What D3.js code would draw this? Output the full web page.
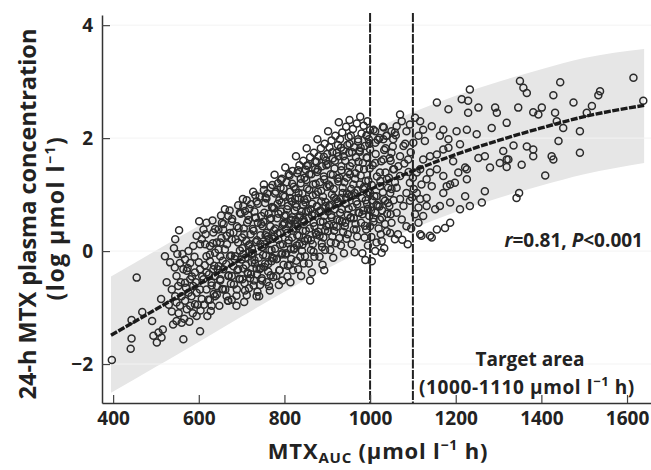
<!DOCTYPE html>
<html>
<head>
<meta charset="utf-8">
<script src="https://cdn.jsdelivr.net/npm/d3@7"></script>
<style>
  body { margin: 0; background: #fff; }
  text { font-family: "Open Sans", Lato, sans-serif; font-weight: bold; fill: #222; }
</style>
</head>
<body>
<script>
// fitted curve and its band
var fitAuc  = [395, 450, 500, 550, 600, 700, 800, 900, 1000, 1100, 1200, 1300, 1400, 1500, 1640];
var fitConc = [-1.49, -1.25, -1.03, -0.81, -0.59, -0.14, 0.30, 0.71, 1.09, 1.42, 1.71, 1.96, 2.18, 2.38, 2.58];
var bandHi  = [-0.45, -0.21, 0.01, 0.23, 0.45, 0.90, 1.34, 1.75, 2.13, 2.46, 2.75, 3.00, 3.22, 3.42, 3.58];
var bandLo  = [-2.51, -2.27, -2.05, -1.83, -1.61, -1.16, -0.72, -0.31, 0.07, 0.40, 0.69, 0.94, 1.16, 1.36, 1.56];

var targetLines = [1000, 1100];
var xTicks = [400, 600, 800, 1000, 1200, 1400, 1600];
var yTicks = [-2, 0, 2, 4];

// patients [MTX AUC, log conc]
var ptsLow = [
  [397,-1.93],[443,-1.55],[441,-1.73],[455,-0.47],[468,-1.08],[443,-1.22],[491,-1.24],[494,-1.50],
  [506,-1.44],[502,-1.62],[513,-1.53],[516,-1.39],[512,-0.85],[521,-0.09],[545,0.21],[554,0.37],
  [564,-1.56],[603,-1.42],[601,0.53],[537,-1.07],[544,-0.29],[548,-0.44],[556,-0.21],[564,-0.32],
  [552,-0.62],[568,-0.56],[560,-0.80],[576,-0.74],[548,-1.24],[560,-1.27],[572,-1.03],[580,-0.97],
  [591,-0.94],[595,-1.15],[607,-0.85],[587,-0.62],[580,-0.50],[568,-0.15],[576,0.00],[587,0.09],
  [595,0.27],[607,0.21],[615,0.12],[618,-0.09],[626,-0.18],[603,-0.32],[611,-0.50],[618,-0.68],
  [626,-0.86],[630,-0.97],[638,-0.80],[642,-0.62],[638,-0.44],[634,-0.32],[646,-0.27],[650,-0.09],
  [638,-0.03],[642,0.15],[634,0.33],[646,0.38],[654,0.50],[661,0.74],[669,0.62],[677,0.53],
  [681,0.33],[689,0.44],[696,0.68],[704,0.80],[665,0.27],[661,0.03],[673,-0.09],[681,-0.27],
  [669,-0.44],[657,-0.68],[665,-0.80],[677,-0.86],[689,-0.68],[696,-0.50],[692,-0.32],[700,-0.15],
  [556,-0.97],[568,-0.88],[583,-0.80],[595,-0.74],[548,-0.91],[537,-0.68],[545,-0.80],[603,-0.68],
  [591,-0.38],[572,-0.35],[618,-0.38],[630,-0.56],[650,-0.50],[657,-0.32],[677,-0.44],[685,-0.09],
  [692,0.15],[677,0.21],[657,0.38],[650,0.15],[626,0.09],[611,0.38],[618,0.50],[603,0.12],
  [580,-0.21],[669,-0.88],[688,-0.97],[735,-0.80],
  [525,-0.55],[530,-0.95],[533,-0.20],[540,-1.30],[542,0.05],[550,-0.05],[553,-1.10],[558,-0.55],
  [562,-0.05],[566,-1.20],[570,-0.65],[574,-0.30],[578,-1.25],[584,-0.45],[586,-1.10],[590,-0.10],
  [593,-0.55],[598,-0.95],[600,-0.20],[604,-1.05],[608,-0.45],[612,-0.95],[614,-0.25],[620,-1.15],
  [616,0.30]
];

var ptsMid = [
  [703,0.92],[708,0.71],[716,0.55],[705,0.40],[721,0.30],[711,0.18],[702,0.05],[718,-0.02],[709,-0.12],[724,-0.20],[704,-0.31],[714,-0.38],[720,-0.48],[707,-0.57],[717,-0.66],[712,-0.78],[722,0.83],[715,0.64],[701,0.24],[719,0.12],[706,-0.90],[723,-0.05],
  [727,1.05],[735,0.88],[742,0.96],[730,0.70],[746,0.62],[738,0.50],[728,0.36],[744,0.28],[733,0.16],[748,0.07],[726,-0.04],[740,-0.12],[731,-0.22],[745,-0.30],[736,-0.41],[729,-0.52],[743,-0.60],[737,-0.72],[749,0.44],[732,0.59],[741,-0.80],[747,-0.48],
  [752,1.18],[760,1.02],[768,1.12],[755,0.85],[771,0.78],[763,0.66],[751,0.52],[767,0.44],[758,0.32],[773,0.22],[754,0.12],[765,0.02],[757,-0.08],[770,-0.18],[753,-0.28],[762,-0.36],[774,-0.46],[759,-0.55],[766,-0.70],[756,0.95],[769,0.58],[761,0.26],[772,-0.12],[764,-0.62],
  [777,1.35],[785,1.20],[794,1.28],[780,1.05],[797,0.98],[788,0.90],[776,0.76],[792,0.70],[783,0.58],[799,0.48],[779,0.40],[790,0.32],[786,0.20],[796,0.12],[778,0.04],[793,-0.06],[782,-0.14],[798,-0.24],[789,-0.34],[781,-0.44],[795,-0.52],[787,-0.60],[791,1.12],[784,0.84],[800,0.62],[776,0.26],
  [802,1.48],[810,1.36],[819,1.42],[805,1.22],[822,1.14],[813,1.05],[801,0.96],[817,0.88],[808,0.80],[824,0.72],[803,0.64],[815,0.56],[811,0.47],[821,0.40],[806,0.32],[818,0.24],[809,0.14],[823,0.05],[804,-0.04],[816,-0.14],[812,-0.24],[820,-0.34],[807,-0.45],[814,-0.55],[825,0.92],[800,0.50],[818,0.60],
  [827,1.68],[835,1.52],[844,1.60],[830,1.38],[847,1.30],[838,1.20],[826,1.10],[842,1.02],[833,0.94],[849,0.86],[828,0.78],[840,0.70],[836,0.60],[846,0.52],[831,0.44],[843,0.36],[834,0.27],[848,0.18],[829,0.10],[841,0.00],[837,-0.10],[845,-0.22],[832,-0.32],[839,-0.44],[850,1.44],[826,0.55],[844,0.82],
  [852,1.82],[860,1.66],[869,1.74],[855,1.52],[872,1.45],[863,1.36],[851,1.26],[867,1.18],[858,1.08],[874,1.00],[853,0.92],[865,0.84],[861,0.74],[871,0.66],[856,0.58],[868,0.50],[859,0.40],[873,0.32],[854,0.22],[866,0.12],[862,0.02],[870,-0.10],[857,-0.22],[864,-0.38],[860,-0.52],[875,1.58],[851,0.70],
  [877,1.98],[885,1.82],[894,1.90],[880,1.68],[897,1.60],[888,1.50],[876,1.40],[892,1.32],[883,1.22],[899,1.14],[878,1.05],[890,0.96],[886,0.88],[896,0.80],[881,0.70],[893,0.62],[884,0.52],[898,0.44],[879,0.34],[891,0.24],[887,0.14],[895,0.02],[882,-0.10],[889,-0.24],[900,1.72],[876,0.80],[893,-0.34],
  [902,2.12],[910,1.96],[919,2.04],[905,1.84],[922,1.74],[913,1.64],[901,1.54],[917,1.46],[908,1.36],[924,1.28],[903,1.18],[915,1.10],[911,1.00],[921,0.92],[906,0.82],[918,0.74],[909,0.64],[923,0.56],[904,0.46],[916,0.36],[912,0.26],[920,0.14],[907,0.02],[914,-0.12],[925,1.88],[901,0.70],
  [927,2.28],[935,2.10],[944,2.20],[930,1.98],[947,1.88],[938,1.78],[926,1.68],[942,1.60],[933,1.50],[949,1.40],[928,1.30],[940,1.22],[936,1.12],[946,1.02],[931,0.94],[943,0.84],[934,0.74],[948,0.64],[929,0.54],[941,0.44],[937,0.34],[945,0.22],[932,0.10],[939,-0.04],[950,2.02],[926,0.86],
  [952,2.32],[960,2.16],[969,2.26],[955,2.04],[972,1.94],[963,1.84],[951,1.74],[967,1.66],[958,1.56],[974,1.46],[953,1.36],[965,1.28],[961,1.18],[971,1.08],[956,0.98],[968,0.88],[959,0.78],[973,0.68],[954,0.58],[966,0.48],[962,0.38],[970,0.26],[957,0.12],[964,-0.02],[975,1.78],[951,1.00],
  [977,2.38],[985,2.22],[994,2.30],[980,2.08],[997,1.98],[988,1.86],[976,1.76],[992,1.66],[983,1.56],[999,1.46],[978,1.34],[990,1.24],[986,1.14],[996,1.04],[981,0.94],[993,0.84],[984,0.72],[998,0.62],[979,0.50],[991,0.38],[987,0.24],[995,0.10],[982,-0.04],[989,-0.16],[1000,2.14]
];

// extra points in the dark core around the fitted line
var ptsCore = [
  [622,-0.86],[626,-0.06],[630,-0.61],[633,0.14],[636,-0.26],[628,-1.06],[638,0.39],[624,-0.41],[632,0.54],[635,-0.76],
  [642,-0.77],[646,0.03],[650,-0.52],[653,0.23],[656,-0.17],[648,-0.97],[658,0.48],[644,-0.32],[652,0.63],[655,-0.67],
  [662,-0.68],[666,0.12],[670,-0.43],[673,0.32],[676,-0.08],[668,-0.88],[678,0.57],[664,-0.23],[672,0.72],[675,-0.58],
  [682,-0.59],[686,0.21],[690,-0.34],[693,0.41],[696,0.01],[688,-0.79],[698,0.66],[684,-0.14],[692,0.81],[695,-0.49],
  [702,-0.50],[706,0.30],[710,-0.25],[713,0.50],[716,0.10],[708,-0.70],[718,0.75],[704,-0.05],[712,0.90],[715,-0.40],
  [722,-0.41],[726,0.39],[730,-0.16],[733,0.59],[736,0.19],[728,-0.61],[738,0.84],[724,0.04],[732,0.99],[735,-0.31],
  [742,-0.32],[746,0.48],[750,-0.07],[753,0.68],[756,0.28],[748,-0.52],[758,0.93],[744,0.13],[752,1.08],[755,-0.22],
  [762,-0.23],[766,0.57],[770,0.02],[773,0.77],[776,0.37],[768,-0.43],[778,1.02],[764,0.22],[772,1.17],[775,-0.13],
  [782,-0.14],[786,0.66],[790,0.11],[793,0.86],[796,0.46],[788,-0.34],[798,1.11],[784,0.31],[792,1.26],[795,-0.04],
  [802,-0.06],[806,0.74],[810,0.19],[813,0.94],[816,0.54],[808,-0.26],[818,1.19],[804,0.39],[812,1.34],[815,0.04],
  [822,0.03],[826,0.83],[830,0.28],[833,1.03],[836,0.63],[828,-0.17],[838,1.28],[824,0.48],[832,1.43],[835,0.13],
  [842,0.11],[846,0.91],[850,0.36],[853,1.11],[856,0.71],[848,-0.09],[858,1.36],[844,0.56],[852,1.51],[855,0.21],
  [862,0.19],[866,0.99],[870,0.44],[873,1.19],[876,0.79],[868,-0.01],[878,1.44],[864,0.64],[872,1.59],[875,0.29],
  [882,0.27],[886,1.07],[890,0.52],[893,1.27],[896,0.87],[888,0.07],[898,1.52],[884,0.72],[892,1.67],[895,0.37],
  [902,0.35],[906,1.15],[910,0.60],[913,1.35],[916,0.95],[908,0.15],[918,1.60],[904,0.80],[912,1.75],[915,0.45],
  [922,0.43],[926,1.23],[930,0.68],[933,1.43],[936,1.03],[928,0.23],[938,1.68],[924,0.88],[932,1.83],[935,0.53],
  [942,0.50],[946,1.30],[950,0.75],[953,1.50],[956,1.10],[948,0.30],[958,1.75],[944,0.95],[952,1.90],[955,0.60],
  [962,0.58],[966,1.38],[970,0.83],[973,1.58],[976,1.18],[968,0.38],[978,1.83],[964,1.03],[972,1.98],[975,0.68],
  [982,0.65],[986,1.45],[990,0.90],[993,1.65],[996,1.25],[988,0.45],[998,1.90],[984,1.10],[992,2.05],[995,0.75],
  [1002,0.72],[1006,1.52],[1010,0.97],[1013,1.72],[1016,1.32],[1008,0.52],[1018,1.97],[1004,1.17],[1012,2.12],[1015,0.82],
  [1022,0.79],[1026,1.59],[1030,1.04],[1033,1.79],[1036,1.39],[1028,0.59],[1038,2.04],[1024,1.24],[1032,2.19],[1035,0.89],
  [1042,0.85],[1046,1.65],[1050,1.10],[1053,1.85],[1056,1.45],[1048,0.65],[1058,2.10],[1044,1.30]
];

var ptsHigh = [
  [1070,2.42],[1074,2.30],[1062,2.21],[1050,2.12],[1039,2.04],[1031,1.98],[1054,1.98],[1085,2.12],
  [1093,2.24],[1105,2.36],[1117,2.30],[1124,2.15],[1113,2.04],[1128,1.95],[1101,1.92],[1078,1.86],
  [1144,2.21],[1156,2.63],[1183,2.51],[1171,2.15],[1163,2.04],[1183,1.98],[1202,2.12],[1214,2.69],
  [1233,2.86],[1229,2.66],[1229,2.45],[1253,2.54],[1226,2.15],[1210,1.89],[1249,2.07],[1284,2.18],
  [1292,2.54],[1296,2.45],[1319,2.27],[1311,1.77],[1323,1.62],[1303,1.56],[1280,1.48],[1268,1.68],
  [1253,1.65],[1226,1.45],[1206,1.39],[1187,1.18],[1198,1.21],[1179,1.15],[1222,1.48],[1226,1.27],
  [1187,0.86],[1210,0.74],[1233,0.80],[1222,0.97],[1268,1.06],[1261,0.86],[1163,0.80],[1152,0.74],
  [1187,0.50],[1175,0.41],[1156,0.38],[1140,0.27],[1120,0.27],[1113,0.50],[1124,0.62],[1113,0.77],
  [1132,0.94],[1144,1.15],[1132,1.27],[1120,1.18],[1140,1.39],[1156,1.45],[1171,1.33],[1124,1.62],
  [1140,1.68],[1156,1.71],[1171,1.80],[1183,1.83],[1194,1.59],[1117,1.45],[1109,1.39],[1171,1.03],
  [1132,0.80],[1117,0.92],[1093,0.89],[1085,1.03],[1078,0.80],[1062,0.68],[1074,0.56],[1085,0.44],
  [1050,0.50],[1039,0.35],[1058,0.21],[1027,0.18],[1047,0.32],[1023,0.56],[1012,0.68],[1000,0.44],
  [1093,1.21],[1070,1.33],[1054,1.45],[1039,1.27],[1023,1.39],[1012,1.56],[1031,1.62],[1050,1.74],
  [1070,1.68],[1089,1.62],[1000,1.80],[1012,1.92],[992,2.04],[1000,1.03],[1015,0.97],[1031,0.92],
  [1047,1.03],[1062,1.12],[1070,0.92],[1023,1.15],[1109,1.03],
  [1005,0.90],[1018,0.80],[1028,0.72],[1040,0.66],[1008,0.58],[1020,0.40],[1035,0.48],[1045,0.80],
  [1055,0.90],[1003,0.25],[1015,0.15],[1025,0.30],[1033,0.05],[1004,-0.18],[1012,0.00],[1042,1.12],
  [1058,1.22],[1066,1.50],[1080,1.55],[1048,1.60],[1036,1.82],[1022,2.00],[1008,2.15],[1030,2.20],
  [1060,2.05],[1082,1.90],[1095,1.75],[1090,1.40],[1100,1.30],[1102,1.10],[1065,0.30],[1075,0.20],
  [1088,0.12],[1096,0.40],[1105,0.65],[1098,0.95],[1117,0.30],[1144,0.24],[1027,-0.03],
  [1350,3.01],[1358,2.89],[1366,2.80],[1444,2.99],[1615,3.07],[1638,2.66],[1537,2.83],[1533,2.76],
  [1518,2.57],[1506,2.45],[1475,2.63],[1428,2.76],[1401,2.54],[1381,2.46],[1393,2.42],[1346,2.54],
  [1432,2.45],[1436,2.30],[1451,2.18],[1490,2.12],[1335,1.87],[1366,1.85],[1381,1.80],[1381,1.68],
  [1319,1.62],[1319,1.49],[1354,1.53],[1424,1.68],[1428,1.62],[1440,1.95],[1490,1.74],[1409,1.34],
  [1348,1.03],[1342,0.94]
];

var W = 651, H = 470;
var x = d3.scaleLinear().domain([374, 1656]).range([102, 651]);
var y = d3.scaleLinear().domain([-2.69, 4.18]).range([403, 15]);

var svg = d3.select('body').append('svg')
  .attr('width', W)
  .attr('height', H);

// grey band
var band = fitAuc.map(function(d, i) { return [d, bandHi[i], bandLo[i]]; });
svg.append('path')
  .datum(band)
  .attr('d', d3.area()
    .x(function(d) { return x(d[0]); })
    .y0(function(d) { return y(d[2]); })
    .y1(function(d) { return y(d[1]); })
    .curve(d3.curveMonotoneX))
  .attr('fill', '#e6e6e6');

// faint grid lines
svg.selectAll('.grid')
  .data(yTicks)
  .enter()
  .append('line')
    .attr('x1', 110).attr('x2', W)
    .attr('y1', function(d) { return y(d); })
    .attr('y2', function(d) { return y(d); })
    .attr('stroke', '#f3f3f3')
    .attr('stroke-width', 1);

// target area lines
svg.selectAll('.target')
  .data(targetLines)
  .enter()
  .append('line')
    .attr('x1', function(d) { return x(d); })
    .attr('x2', function(d) { return x(d); })
    .attr('y1', 13).attr('y2', y.range()[0])
    .attr('stroke', '#222')
    .attr('stroke-width', 2)
    .attr('stroke-dasharray', '9,1.5');

// scatter
var pts = ptsLow.concat(ptsMid, ptsCore, ptsHigh);
svg.selectAll('circle')
  .data(pts)
  .enter()
  .append('circle')
    .attr('cx', function(d) { return x(d[0]); })
    .attr('cy', function(d) { return y(d[1]); })
    .attr('r', 3.5)
    .attr('fill', 'none')
    .attr('stroke', '#2b2b2b')
    .attr('stroke-width', 1.5);

// fitted line
var fit = fitAuc.map(function(d, i) { return [d, fitConc[i]]; });
svg.append('path')
  .datum(fit)
  .attr('d', d3.line()
    .x(function(d) { return x(d[0]); })
    .y(function(d) { return y(d[1]); })
    .curve(d3.curveMonotoneX))
  .attr('fill', 'none')
  .attr('stroke', '#1a1a1a')
  .attr('stroke-width', 3.4)
  .attr('stroke-dasharray', '7,1.5');

// axes, ticks pointing inward
var xAxis = svg.append('g')
  .attr('transform', 'translate(0,403)')
  .call(d3.axisBottom(x).tickValues(xTicks).tickSize(-8).tickSizeOuter(0).tickPadding(9).tickFormat(d3.format('d')));
var yAxis = svg.append('g')
  .attr('transform', 'translate(102,0)')
  .call(d3.axisLeft(y).tickValues(yTicks).tickSize(-8).tickSizeOuter(0).tickPadding(9).tickFormat(d3.format('d')));

[xAxis, yAxis].forEach(function(g) {
  g.select('.domain').attr('stroke', '#333').attr('stroke-width', 1.5);
  g.selectAll('.tick line').attr('stroke', '#444').attr('stroke-width', 1.2);
  g.selectAll('.tick text')
    .style('font-family', '"Open Sans", sans-serif')
    .style('font-weight', 'bold')
    .style('font-size', '19px')
    .attr('fill', '#222');
});

// axis titles
var xt = svg.append('text')
  .attr('x', 378).attr('y', 459)
  .attr('text-anchor', 'middle')
  .style('font-size', '22px')
  .style('letter-spacing', '0.8px');
xt.append('tspan').text('MTX');
xt.append('tspan').attr('dy', 4).style('font-size', '15px').text('AUC');
xt.append('tspan').attr('dy', -4).text(' (\u00b5mol l');
xt.append('tspan').attr('dy', -9).style('font-size', '14px').text('\u22121');
xt.append('tspan').attr('dy', 9).text(' h)');

var yt = svg.append('g').attr('transform', 'translate(36,214) rotate(-90)');
yt.append('text')
  .attr('text-anchor', 'middle')
  .style('font-size', '23.5px')
  .text('24-h MTX plasma concentration');
var yt2 = yt.append('text')
  .attr('x', -4)
  .attr('y', 28)
  .attr('text-anchor', 'middle')
  .style('font-size', '23px')
  .style('letter-spacing', '1.5px');
yt2.append('tspan').text('(log \u00b5mol l');
yt2.append('tspan').attr('dy', -9).style('font-size', '14px').text('\u22121');
yt2.append('tspan').attr('dy', 9).text(')');

// annotations
var stat = svg.append('text')
  .attr('x', 643).attr('y', 247)
  .attr('text-anchor', 'end')
  .style('font-size', '19px');
stat.append('tspan').style('font-style', 'italic').text('r');
stat.append('tspan').text('=0.81, ');
stat.append('tspan').style('font-style', 'italic').text('P');
stat.append('tspan').text('<0.001');

svg.append('text')
  .attr('x', 530).attr('y', 366)
  .attr('text-anchor', 'middle')
  .style('font-size', '19px')
  .text('Target area');
var ta = svg.append('text')
  .attr('x', 527).attr('y', 394)
  .attr('text-anchor', 'middle')
  .style('font-size', '19px')
  .style('letter-spacing', '0.6px');
ta.append('tspan').text('(1000-1110 \u00b5mol l');
ta.append('tspan').attr('dy', -8).style('font-size', '13px').text('\u22121');
ta.append('tspan').attr('dy', 8).text(' h)');
</script>
</body>
</html>
